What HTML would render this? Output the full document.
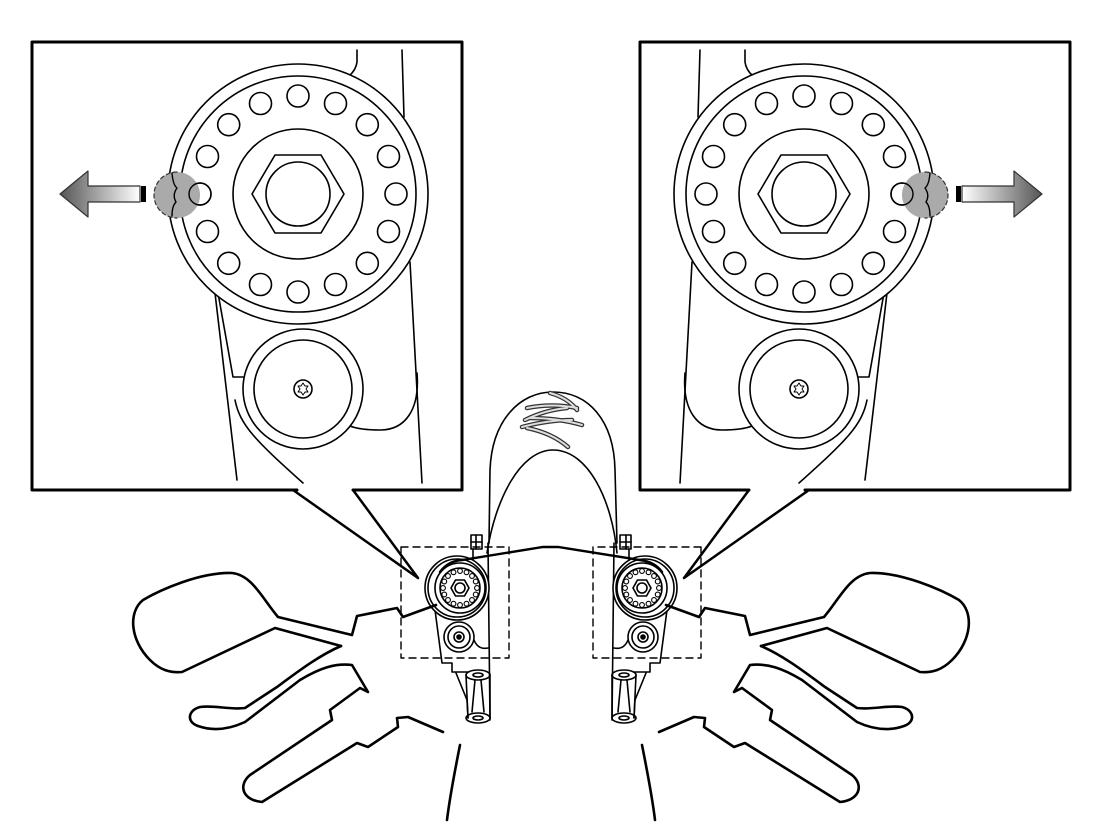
<!DOCTYPE html>
<html><head><meta charset="utf-8"><style>
html,body{margin:0;padding:0;background:#fff}
svg{display:block}
</style></head><body>
<svg width="1102" height="826" viewBox="0 0 1102 826" xmlns="http://www.w3.org/2000/svg">
<defs>
<linearGradient id="ga" x1="0" x2="1" y1="0" y2="0">
<stop offset="0" stop-color="#555"/><stop offset="1" stop-color="#fff"/>
</linearGradient>
<g id="half" fill="none" stroke="#000" stroke-linecap="round" stroke-linejoin="round">
  <!-- callout box -->
  <path d="M297,490 L32,490 L32,42 L462,42 L462,490 L353,490" stroke-width="3"/>
  <path d="M293,490 L418,578 L353,490" stroke-width="2.5"/>
  <!-- detail internals -->
  <g stroke-width="1.6">
    <path d="M357,50 L357,62 Q356,70 349,76"/>
    <path d="M402,50 L404,117"/>
    <path d="M410,262 L422,483"/>
    <path d="M417,373 C420,410 405,430 380,430 Q360,430 350,426"/>
    <path d="M215,293 L237,480"/>
    <path d="M218,293 L233,377 L243,377"/>
    <path d="M235,400 C240,425 255,440 303,483"/>
    <circle cx="298" cy="194" r="130" fill="#fff"/>
    <circle cx="298" cy="194" r="118"/>
    <circle cx="298" cy="194" r="65"/>
    <polygon points="252,194 275,155 321,155 344,194 321,233 275,233"/>
    <circle cx="298" cy="194" r="32"/>
    <g id="holes">
      <circle cx="298" cy="96" r="11"/>
      <circle cx="335.5" cy="103.5" r="11"/>
      <circle cx="367.3" cy="124.7" r="11"/>
      <circle cx="388.5" cy="156.5" r="11"/>
      <circle cx="396" cy="194" r="11"/>
      <circle cx="388.5" cy="231.5" r="11"/>
      <circle cx="367.3" cy="263.3" r="11"/>
      <circle cx="335.5" cy="284.5" r="11"/>
      <circle cx="298" cy="292" r="11"/>
      <circle cx="260.5" cy="284.5" r="11"/>
      <circle cx="228.7" cy="263.3" r="11"/>
      <circle cx="207.5" cy="231.5" r="11"/>
      <circle cx="200" cy="194" r="11"/>
      <circle cx="207.5" cy="156.5" r="11"/>
      <circle cx="228.7" cy="124.7" r="11"/>
      <circle cx="260.5" cy="103.5" r="11"/>
    </g>
    <circle cx="303" cy="389" r="60" fill="#fff"/>
    <circle cx="303" cy="389" r="49"/>
    <circle cx="303" cy="389" r="9"/>
    <polygon points="303,383 305,386 308,386 306,389 308,392 305,392 303,395 301,392 298,392 300,389 298,386 301,386" stroke-width="1"/>
  </g>
  <!-- gray mark circle -->
  <circle cx="177" cy="195" r="23" fill="#aaa" stroke="none"/>
  <path d="M177,172 A23,23 0 0 0 177,218" stroke="#333" stroke-width="1.2" stroke-dasharray="4,3"/>
  <path d="M172,173 Q173,185 177,188 Q172,195 176,202 Q172,206 172,216" stroke="#000" stroke-width="1.4"/>
  <circle cx="200" cy="194" r="11" stroke-width="1.4"/>
  <!-- arrow -->
  <polygon points="60,194 88,171 88,186 140,186 140,202 88,202 88,217" fill="url(#ga)" stroke="#333" stroke-width="1.2"/>
  <rect x="141" y="186" width="5" height="16" fill="#000" stroke="none"/>
  <!-- caliper -->
  <g stroke-width="1.6">
    <rect x="401" y="547" width="108" height="111" stroke-dasharray="7,5" stroke-width="1.4"/>
    <path d="M488,543 L490,720"/>
    <path d="M435,610 L442,663 L452,663 L452,672 L468,672"/>
    <path d="M456,673 L467,700 L468,718"/>
    <ellipse cx="478" cy="675" rx="12" ry="5"/>
    <ellipse cx="478" cy="675" rx="5" ry="2"/>
    <ellipse cx="478" cy="718" rx="12" ry="5"/>
    <ellipse cx="478" cy="718" rx="5" ry="2"/>
    <path d="M466,675 L468,718 M490,675 L490,718 M475,680 L472,712 M481,680 L484,712"/>
    <rect x="471" y="535" width="11" height="14"/>
    <path d="M476,535 V549 M471,542 H482"/>
    <path d="M473,549 L473,570"/>
    <circle cx="457" cy="588" r="32" fill="#fff"/>
    <circle cx="457" cy="588" r="29"/>
    <circle cx="460" cy="588" r="25"/>
    <circle cx="460" cy="588" r="20"/>
    <polygon points="451,588 455.5,580 464.5,580 469,588 464.5,596 455.5,596"/>
    <circle cx="460" cy="588" r="5"/>
    <g stroke-width="1.1">
      <circle cx="460" cy="571" r="2.4"/><circle cx="466.5" cy="572.3" r="2.4"/><circle cx="472" cy="576" r="2.4"/><circle cx="475.7" cy="581.5" r="2.4"/><circle cx="477" cy="588" r="2.4"/><circle cx="475.7" cy="594.5" r="2.4"/><circle cx="472" cy="600" r="2.4"/><circle cx="466.5" cy="603.7" r="2.4"/><circle cx="460" cy="605" r="2.4"/><circle cx="453.5" cy="603.7" r="2.4"/><circle cx="448" cy="600" r="2.4"/><circle cx="444.3" cy="594.5" r="2.4"/><circle cx="443" cy="588" r="2.4"/><circle cx="444.3" cy="581.5" r="2.4"/><circle cx="448" cy="576" r="2.4"/><circle cx="453.5" cy="572.3" r="2.4"/>
    </g>
    <circle cx="459" cy="637" r="15" fill="#fff"/>
    <circle cx="459" cy="637" r="11"/>
    <circle cx="459" cy="637" r="5"/>
    <circle cx="459" cy="637" r="2" fill="#000"/>
    <path d="M474,640 Q478,650 488,648"/>
  </g>
  <!-- levers -->
  <g stroke-width="2.6">
    <path d="M436,605 L403,617 L397,608 L357,616 L352,635 L278,617 C262,598 252,575 232,573 C200,572 160,590 143,600 C128,612 130,640 150,660 C160,670 170,673 182,672 L275,628 L341,646"/>
    <path d="M341,646 C320,655 300,670 277,687 L245,708 C230,710 215,705 200,707 C188,710 186,722 198,726 C215,732 232,728 245,722 L300,680 C320,668 335,663 352,665 L368,692 L360,688 L330,710 L332,720 L250,775 C238,785 242,800 262,802 L357,743 L368,747 L398,727 L397,718 L408,717 L443,732"/>
    <path d="M460,745 C455,770 450,795 447,820"/>
  </g>
</g>
</defs>
<use href="#half"/>
<use href="#half" transform="matrix(-1 0 0 1 1102 0)"/>
<g fill="none" stroke="#000" stroke-linecap="round">
  <path d="M489,543 L490,470 C492,420 520,392 553,392 C588,392 614,420 615,470 L617,543" stroke-width="1.6"/>
  <path d="M487,553 C495,500 520,450 553,450 C588,450 612,500 617,553" stroke-width="1.6"/>
  <path d="M440,572 Q448,561 462,560 L543,547 L558,547 L640,560 Q655,562 662,572" stroke-width="2.4"/>
  <g stroke="#333" stroke-width="4.5">
    <path d="M550,393 Q568,398 577,410"/><path d="M527,408 Q552,403 577,408"/><path d="M525,420 Q545,410 567,408"/><path d="M530,418 Q558,418 582,425"/><path d="M522,427 Q548,420 572,420"/><path d="M527,428 Q552,433 568,447"/>
  </g>
  <g stroke="#ddd" stroke-width="2">
    <path d="M550,393 Q568,398 577,410"/><path d="M527,408 Q552,403 577,408"/><path d="M525,420 Q545,410 567,408"/><path d="M530,418 Q558,418 582,425"/><path d="M522,427 Q548,420 572,420"/><path d="M527,428 Q552,433 568,447"/>
  </g>
</g>
</svg>
</body></html>
